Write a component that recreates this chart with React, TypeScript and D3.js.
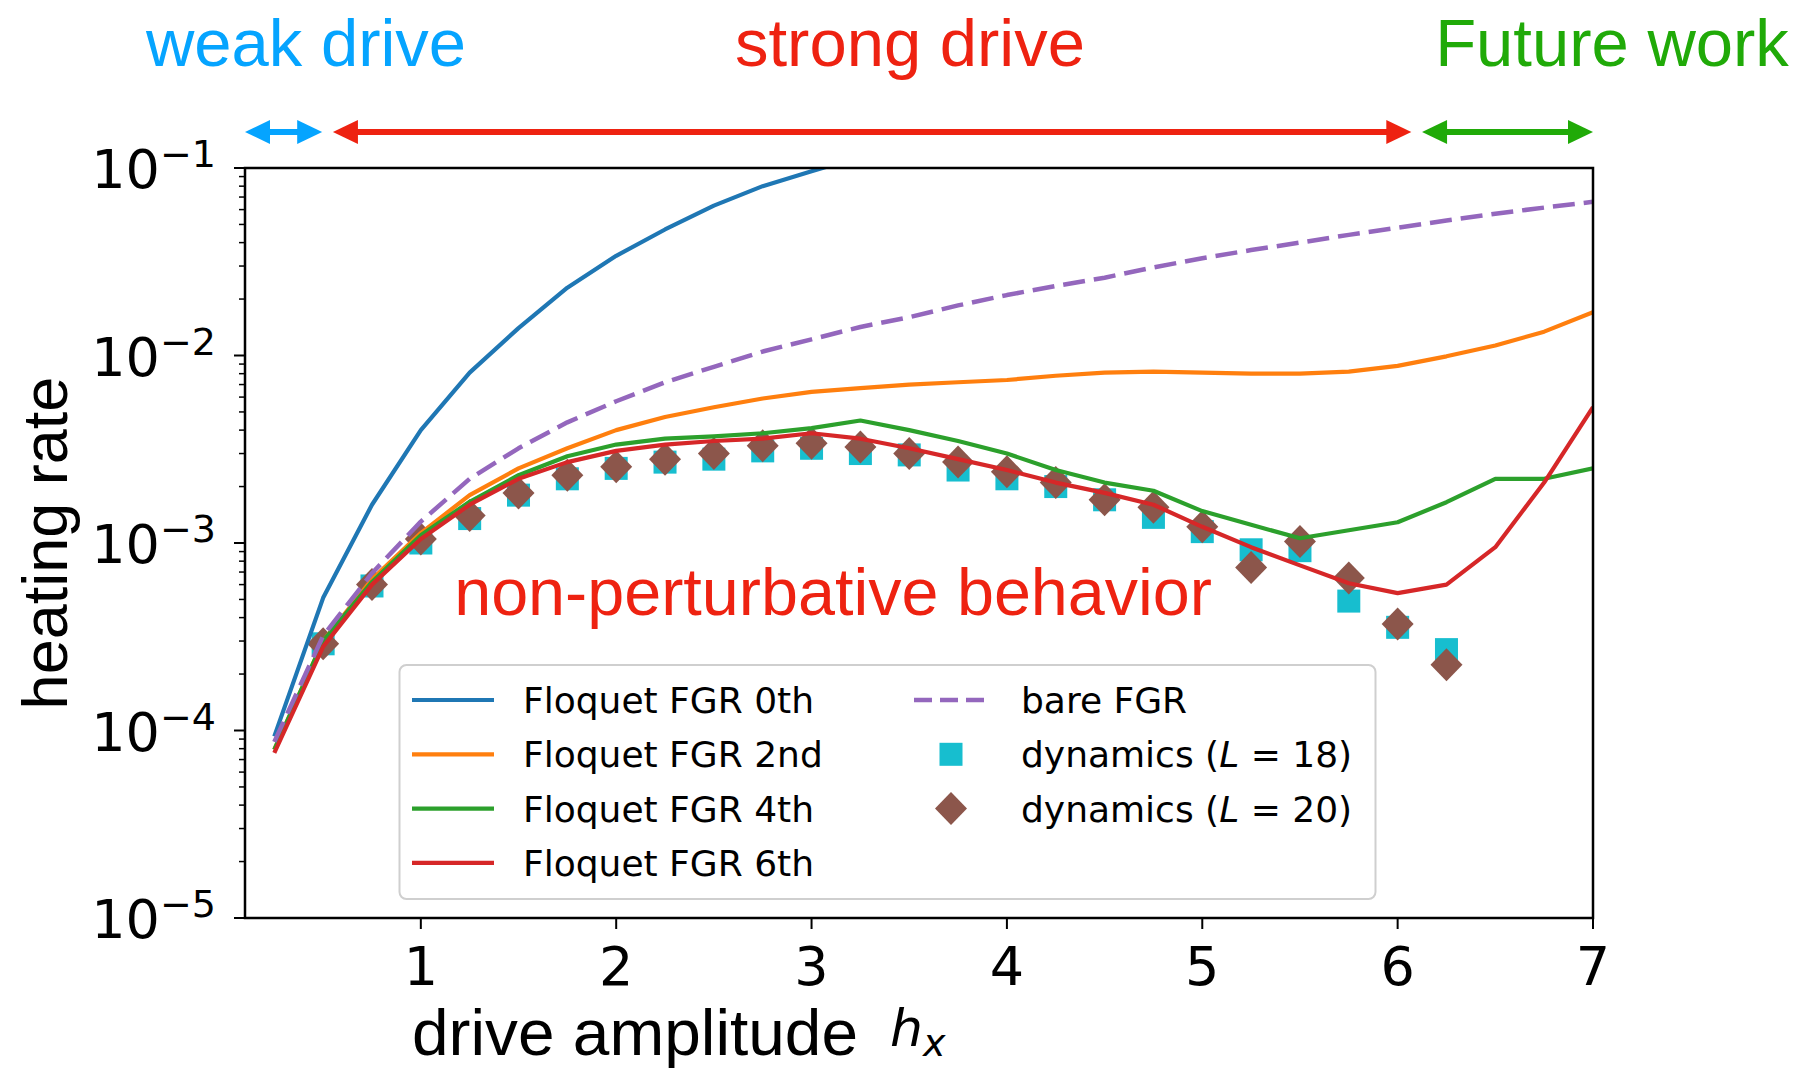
import React from "react";
import * as d3 from "d3";

// ---------- data ----------
const hxLine = [0.25, 0.5, 0.75, 1.0, 1.25, 1.5, 1.75, 2.0, 2.25, 2.5, 2.75, 3.0, 3.25, 3.5, 3.75, 4.0, 4.25, 4.5, 4.75, 5.0, 5.25, 5.5, 5.75, 6.0, 6.25, 6.5, 6.75, 7.0];
const hxDyn = [0.5, 0.75, 1.0, 1.25, 1.5, 1.75, 2.0, 2.25, 2.5, 2.75, 3.0, 3.25, 3.5, 3.75, 4.0, 4.25, 4.5, 4.75, 5.0, 5.25, 5.5, 5.75, 6.0, 6.25];

const floquet0th = [9.3e-5, 5.1e-4, 1.6e-3, 4.0e-3, 8.1e-3, 1.4e-2, 2.3e-2, 3.4e-2, 4.7e-2, 6.3e-2, 8.0e-2, 9.6e-2, 0.115];
const floquet2nd = [7.9e-5, 3.0e-4, 6.4e-4, 1.13e-3, 1.8e-3, 2.5e-3, 3.2e-3, 4.0e-3, 4.7e-3, 5.3e-3, 5.9e-3, 6.4e-3, 6.7e-3, 7.0e-3, 7.2e-3, 7.4e-3, 7.8e-3, 8.1e-3, 8.2e-3, 8.1e-3, 8.0e-3, 8.0e-3, 8.2e-3, 8.8e-3, 9.9e-3, 1.13e-2, 1.34e-2, 1.7e-2];
const floquet4th = [7.9e-5, 3.0e-4, 6.2e-4, 1.1e-3, 1.66e-3, 2.3e-3, 2.9e-3, 3.35e-3, 3.6e-3, 3.7e-3, 3.85e-3, 4.1e-3, 4.5e-3, 4.0e-3, 3.5e-3, 3.0e-3, 2.45e-3, 2.1e-3, 1.9e-3, 1.48e-3, 1.25e-3, 1.06e-3, 1.17e-3, 1.29e-3, 1.65e-3, 2.2e-3, 2.2e-3, 2.5e-3];
const floquet6th = [7.6e-5, 2.8e-4, 6.0e-4, 1.05e-3, 1.6e-3, 2.2e-3, 2.7e-3, 3.1e-3, 3.35e-3, 3.5e-3, 3.6e-3, 3.85e-3, 3.6e-3, 3.2e-3, 2.8e-3, 2.45e-3, 2.1e-3, 1.85e-3, 1.6e-3, 1.22e-3, 9.5e-4, 7.6e-4, 6.1e-4, 5.4e-4, 6.0e-4, 9.5e-4, 2.1e-3, 5.3e-3];
const bareFGR = [8.7e-5, 3.2e-4, 6.9e-4, 1.3e-3, 2.2e-3, 3.2e-3, 4.4e-3, 5.7e-3, 7.2e-3, 8.7e-3, 1.05e-2, 1.22e-2, 1.42e-2, 1.6e-2, 1.85e-2, 2.1e-2, 2.35e-2, 2.6e-2, 2.95e-2, 3.3e-2, 3.65e-2, 4.0e-2, 4.4e-2, 4.8e-2, 5.25e-2, 5.7e-2, 6.15e-2, 6.6e-2];
const dynamicsL18 = [2.9e-4, 5.9e-4, 1.0e-3, 1.35e-3, 1.8e-3, 2.2e-3, 2.5e-3, 2.7e-3, 2.8e-3, 3.1e-3, 3.2e-3, 3.0e-3, 2.95e-3, 2.45e-3, 2.2e-3, 2.0e-3, 1.7e-3, 1.37e-3, 1.15e-3, 9.2e-4, 9.1e-4, 4.9e-4, 3.55e-4, 2.7e-4];
const dynamicsL20 = [2.9e-4, 6.0e-4, 1.05e-3, 1.4e-3, 1.85e-3, 2.3e-3, 2.55e-3, 2.8e-3, 3.0e-3, 3.3e-3, 3.4e-3, 3.25e-3, 3.0e-3, 2.7e-3, 2.4e-3, 2.1e-3, 1.7e-3, 1.55e-3, 1.22e-3, 7.4e-4, 1.02e-3, 6.5e-4, 3.7e-4, 2.24e-4];

const xTicks = [1, 2, 3, 4, 5, 6, 7];
const yTickExponents = [-1, -2, -3, -4, -5];

const lineSeries = [
  { name: "Floquet FGR 0th", values: floquet0th, color: "#1f77b4", dashed: false },
  { name: "Floquet FGR 2nd", values: floquet2nd, color: "#ff7f0e", dashed: false },
  { name: "Floquet FGR 4th", values: floquet4th, color: "#2ca02c", dashed: false },
  { name: "Floquet FGR 6th", values: floquet6th, color: "#d62728", dashed: false },
  { name: "bare FGR", values: bareFGR, color: "#9467bd", dashed: true },
];

const regions = [
  { label: "weak drive", from: 0.1, to: 0.495, color: "#05a4ff", textX: 306 },
  { label: "strong drive", from: 0.55, to: 6.07, color: "#ee2211", textX: 910 },
  { label: "Future work", from: 6.125, to: 7.0, color: "#20aa08", textX: 1612 },
];

// ---------- layout ----------
const W = 1796;
const H = 1070;
const L = 245, R = 1593, T = 168, B = 918;
const SANS = "'Liberation Sans', Arial, Helvetica, sans-serif";
const DJ = "'DejaVu Sans', sans-serif";
const DASH = "22 9";

export default function App() {
  const x = d3.scaleLinear().domain([0.1, 7]).range([L, R]);
  const y = d3.scaleLog().domain([1e-5, 1e-1]).range([B, T]);

  const line = d3
    .line<[number, number]>()
    .x((d) => x(d[0]))
    .y((d) => y(d[1]));

  const minorTicks: number[] = [];
  for (let e = -5; e < -1; e++) {
    for (let m = 2; m <= 9; m++) minorTicks.push(m * Math.pow(10, e));
  }

  const arrowY = 132;
  const headLen = 25;
  const headHalf = 12;
  const shaft = 6;

  const legendRowY = (i: number) => 700 + i * 54.3;

  return (
    <svg width={W} height={H} style={{ display: "block", position: "absolute", left: 0, top: 0, background: "#fff" }}>
      <defs>
        <clipPath id="plotClip">
          <rect x={L} y={T} width={R - L} height={B - T} />
        </clipPath>
      </defs>

      {/* region labels and arrows */}
      {regions.map((r) => {
        const x0 = x(r.from);
        const x1 = x(r.to);
        return (
          <g key={r.label}>
            <text x={r.textX} y={66} textAnchor="middle" fontFamily={SANS} fontSize={67} fill={r.color}>
              {r.label}
            </text>
            <rect x={x0 + headLen - 1} y={arrowY - shaft / 2} width={x1 - x0 - 2 * headLen + 2} height={shaft} fill={r.color} />
            <path d={`M${x0},${arrowY} L${x0 + headLen},${arrowY - headHalf} L${x0 + headLen},${arrowY + headHalf} Z`} fill={r.color} />
            <path d={`M${x1},${arrowY} L${x1 - headLen},${arrowY - headHalf} L${x1 - headLen},${arrowY + headHalf} Z`} fill={r.color} />
          </g>
        );
      })}

      {/* markers (drawn under lines) */}
      <g clipPath="url(#plotClip)">
        {hxDyn.map((h, i) => (
          <rect key={"s" + i} x={x(h) - 11.5} y={y(dynamicsL18[i]) - 11.5} width={23} height={23} fill="#17becf" />
        ))}
        {hxDyn.map((h, i) => {
          const cx = x(h), cy = y(dynamicsL20[i]);
          return <path key={"d" + i} d={`M${cx},${cy - 16.5} L${cx + 16},${cy} L${cx},${cy + 16.5} L${cx - 16},${cy} Z`} fill="#8c564b" />;
        })}
      </g>

      {/* lines */}
      <g clipPath="url(#plotClip)">
        {lineSeries.map((s) => (
          <path
            key={s.name}
            d={line(s.values.map((v, i) => [hxLine[i], v] as [number, number])) || ""}
            fill="none"
            stroke={s.color}
            strokeWidth={s.dashed ? 4.5 : 4.2}
            strokeDasharray={s.dashed ? DASH : undefined}
            strokeLinejoin="round"
          />
        ))}
      </g>

      {/* text annotation */}
      <text x={1212} y={615} textAnchor="end" fontFamily={SANS} fontSize={66.5} fill="#ee2211">
        non-perturbative behavior
      </text>

      {/* legend */}
      <g>
        <rect x={399.5} y={665} width={976} height={234} rx={7} fill="#ffffff" fillOpacity={0.85} stroke="#cfcfcf" strokeWidth={2} />
        {lineSeries.slice(0, 4).map((s, i) => (
          <g key={s.name}>
            <line x1={412} x2={494} y1={legendRowY(i)} y2={legendRowY(i)} stroke={s.color} strokeWidth={4.2} />
            <text x={523} y={legendRowY(i) + 13} fontFamily={DJ} fontSize={36} fill="#000">
              {s.name}
            </text>
          </g>
        ))}
        <line x1={914} x2={988} y1={legendRowY(0)} y2={legendRowY(0)} stroke="#9467bd" strokeWidth={4.5} strokeDasharray="18 8" />
        <text x={1021} y={legendRowY(0) + 13} fontFamily={DJ} fontSize={36} fill="#000">
          bare FGR
        </text>
        <rect x={951 - 11.5} y={legendRowY(1) - 11.5} width={23} height={23} fill="#17becf" />
        <text x={1021} y={legendRowY(1) + 13} fontFamily={DJ} fontSize={36} fill="#000">
          dynamics (<tspan fontStyle="italic">L</tspan>
          {" = 18)"}
        </text>
        <path
          d={`M951,${legendRowY(2) - 16.5} L967,${legendRowY(2)} L951,${legendRowY(2) + 16.5} L935,${legendRowY(2)} Z`}
          fill="#8c564b"
        />
        <text x={1021} y={legendRowY(2) + 13} fontFamily={DJ} fontSize={36} fill="#000">
          dynamics (<tspan fontStyle="italic">L</tspan>
          {" = 20)"}
        </text>
      </g>

      {/* frame */}
      <rect x={L} y={T} width={R - L} height={B - T} fill="none" stroke="#000" strokeWidth={2.5} />

      {/* y ticks */}
      {yTickExponents.map((e) => {
        const yy = y(Math.pow(10, e));
        return (
          <g key={"y" + e}>
            <line x1={L - 11} x2={L} y1={yy} y2={yy} stroke="#000" strokeWidth={2} />
            <text x={216} y={yy + 20} textAnchor="end" fontFamily={DJ} fontSize={54} fill="#000">
              10
              <tspan fontSize={38} dy={-21}>
                {"\u2212" + Math.abs(e)}
              </tspan>
            </text>
          </g>
        );
      })}
      {minorTicks.map((v, i) => (
        <line key={"m" + i} x1={L - 6} x2={L} y1={y(v)} y2={y(v)} stroke="#000" strokeWidth={1.5} />
      ))}

      {/* x ticks */}
      {xTicks.map((t) => (
        <g key={"x" + t}>
          <line x1={x(t)} x2={x(t)} y1={B} y2={B + 11} stroke="#000" strokeWidth={2} />
          <text x={x(t)} y={985} textAnchor="middle" fontFamily={DJ} fontSize={54} fill="#000">
            {t}
          </text>
        </g>
      ))}

      {/* axis labels */}
      <text x={412} y={1055} fontFamily={SANS} fontSize={64} fill="#000" textLength={446} lengthAdjust="spacingAndGlyphs">
        drive amplitude
      </text>
      <text x={890} y={1046} fontFamily={DJ} fontStyle="italic" fontSize={52} fill="#000">
        h
        <tspan fontSize={38} dy={10}>x</tspan>
      </text>
      <text
        transform={`translate(67,543) rotate(-90)`}
        textAnchor="middle"
        fontFamily={SANS}
        fontSize={63}
        fill="#000"
      >
        heating rate
      </text>
    </svg>
  );
}
